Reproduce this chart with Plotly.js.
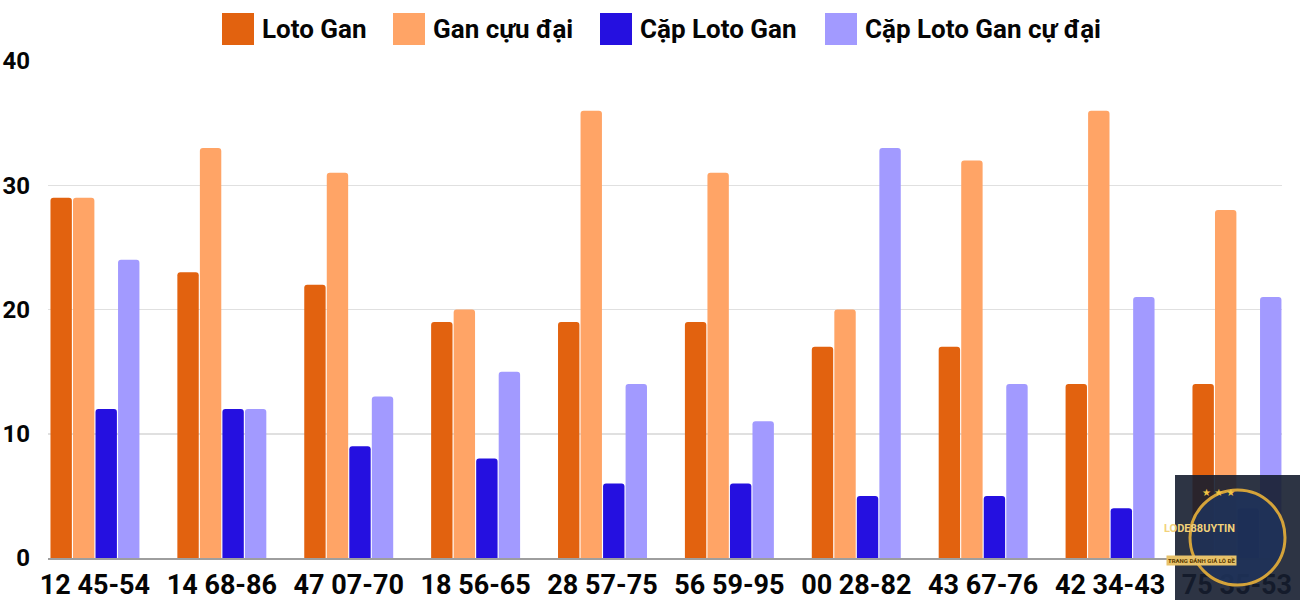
<!DOCTYPE html>
<html>
<head>
<meta charset="utf-8">
<script src="https://cdn.plot.ly/plotly-3.0.1.min.js"></script>
<style>html,body{margin:0;padding:0;background:#fff}#chart{width:1300px;height:600px}</style>
</head>
<body>
<div id="chart"></div>
<script>
const categories = ["12 45-54","14 68-86","47 07-70","18 56-65","28 57-75","56 59-95","00 28-82","43 67-76","42 34-43","75 35-53"];
const seriesNames = ["Loto Gan","Gan cựu đại","Cặp Loto Gan","Cặp Loto Gan cự đại"];
const lotoGan = [29,23,22,19,19,19,17,17,14,14];
const ganCucDai = [29,33,31,20,36,31,20,32,36,28];
const capLotoGan = [12,12,9,8,6,6,5,5,4,4];
const capLotoGanCucDai = [24,12,13,15,14,11,33,14,21,21];
const yTicks = [0,10,20,30,40];

const colors = ["#E2620F","#FFA466","#2510E0","#A29AFF"];
const values = [lotoGan, ganCucDai, capLotoGan, capLotoGanCucDai];
const traces = values.map((v,i)=>({
  type:"bar", name:seriesNames[i], x:categories, y:v,
  marker:{color:colors[i], cornerradius:3, line:{width:0}},
  showlegend:false, hoverinfo:"x+y+name"
}));

// plot area pixel geometry
const L=48, R=1282, T=61, B=558;
const px=x=>(x-L)/(R-L);
const py=y=>(B-y)/(B-T);

const shapes=[], annotations=[];
const legendX=[222,393,600,825];
seriesNames.forEach((n,i)=>{
  shapes.push({type:"rect",xref:"paper",yref:"paper",x0:px(legendX[i]),x1:px(legendX[i]+32),y0:py(45),y1:py(13),fillcolor:colors[i],line:{width:0}});
  annotations.push({xref:"paper",yref:"paper",x:px(legendX[i]+38),y:py(29),xanchor:"left",yanchor:"middle",showarrow:false,text:n,font:{family:"Roboto",size:26,color:"#050505",weight:700}});
});
// watermark logo badge (approximation)
shapes.push({type:"rect",xref:"paper",yref:"paper",x0:px(1175),x1:px(1300),y0:py(600),y1:py(475),fillcolor:"rgba(22,30,48,0.9)",line:{width:0},layer:"above"});
shapes.push({type:"circle",xref:"paper",yref:"paper",x0:px(1190),x1:px(1285),y0:py(585),y1:py(490),fillcolor:"rgba(30,50,90,0.85)",line:{color:"#d4a33a",width:3},layer:"above"});
annotations.push({xref:"paper",yref:"paper",x:px(1237),y:py(537),showarrow:false,text:"LODE88UYTIN",font:{family:"Roboto",size:11,color:"#f2d27a",weight:700}});
annotations.push({xref:"paper",yref:"paper",x:px(1237),y:py(500),showarrow:false,text:"★ ★ ★",font:{family:"DejaVu Sans",size:10,color:"#f2c443"}});
annotations.push({xref:"paper",yref:"paper",x:px(1237),y:py(566),showarrow:false,text:"TRANG ĐÁNH GIÁ LÔ ĐỀ",bgcolor:"#e8c26a",font:{family:"Roboto",size:6,color:"#5a3a00",weight:700}});

const layout={
  width:1300,height:600,
  margin:{l:L,r:1300-R,t:T,b:600-B,pad:0},
  paper_bgcolor:"#fff",plot_bgcolor:"#fff",
  barmode:"group",bargap:0.29,bargroupgap:0.05,
  showlegend:false,
  font:{family:"Roboto",color:"#050505"},
  xaxis:{type:"category",range:[-0.37,9.355],showgrid:false,showline:true,linecolor:"#9e9e9e",linewidth:1.5,
    tickfont:{family:"Roboto",size:27,color:"#050505",weight:700},ticks:"",ticklabelstandoff:2},
  yaxis:{range:[0,40],tickvals:yTicks,showgrid:true,gridcolor:"#e0e0e0",gridwidth:1.5,zeroline:false,
    tickfont:{family:"Roboto",size:24,color:"#050505",weight:700},ticks:"",ticklabelstandoff:17},
  shapes:shapes,annotations:annotations
};
Plotly.newPlot("chart",traces,layout,{displayModeBar:false,staticPlot:true});
</script>
</body>
</html>
